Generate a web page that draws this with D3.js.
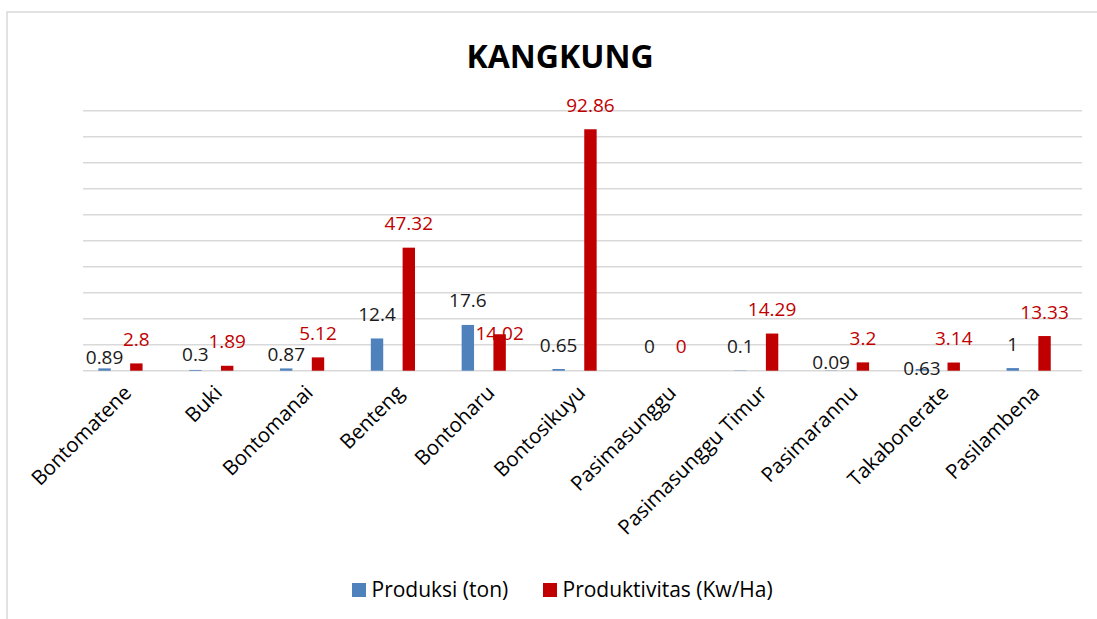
<!DOCTYPE html>
<html>
<head>
<meta charset="utf-8">
<script src="https://cdn.jsdelivr.net/npm/d3@7"></script>
<style>
  html, body { margin: 0; padding: 0; background: #fff; }
  svg { display: block; font-family: "Open Sans", sans-serif; }
</style>
</head>
<body>
<div id="chart"></div>
<script>
// data
const categories = ['Bontomatene', 'Buki', 'Bontomanai', 'Benteng', 'Bontoharu', 'Bontosikuyu',
  'Pasimasunggu', 'Pasimasunggu Timur', 'Pasimarannu', 'Takabonerate', 'Pasilambena'];
const produksi = [0.89, 0.3, 0.87, 12.4, 17.6, 0.65, 0, 0.1, 0.09, 0.63, 1];
const produktivitas = [2.8, 1.89, 5.12, 47.32, 14.02, 92.86, 0, 14.29, 3.2, 3.14, 13.33];
const seriesNames = ['Produksi (ton)', 'Produktivitas (Kw/Ha)'];
const yTicks = d3.range(0, 101, 10);

// a few labels were dragged by hand in the original, nudge them (px, down)
const labelNudge = {
  'Produksi (ton)': { Bontomatene: 13, Buki: 8.3, Bontomanai: 9.8, Pasimarannu: 16.3, Takabonerate: 23.4 },
  'Produktivitas (Kw/Ha)': { Bontoharu: 23.3 }
};

const width = 1097, height = 619;
const margin = { top: 110.7, right: 15, bottom: 248.3, left: 83 };
const colors = ['#4F81BD', '#C00000'];
const labelColors = ['#1a1a1a', '#C00000'];
const slots = [0, 2]; // excel left empty slots between the two series

const svg = d3.select('#chart').append('svg')
  .attr('width', width)
  .attr('height', height);

// chart area border
svg.append('rect')
  .attr('x', 7).attr('y', 12)
  .attr('width', 1120).attr('height', 640)
  .attr('fill', '#fff')
  .attr('stroke', '#D9D9D9')
  .attr('stroke-width', 1.5);

const x = d3.scaleBand()
  .domain(categories)
  .range([margin.left, width - margin.right]);

const y = d3.scaleLinear()
  .domain([0, 100])
  .range([height - margin.bottom, margin.top]);

const half = x.bandwidth() * 0.35;
const inner = d3.scaleBand()
  .domain([0, 1, 2, 3])
  .range([-half, half])
  .paddingInner(0.22)
  .paddingOuter(0.11);

// gridlines
svg.append('g')
  .selectAll('line')
  .data(yTicks)
  .join('line')
  .attr('x1', margin.left)
  .attr('x2', width - margin.right)
  .attr('y1', d => y(d))
  .attr('y2', d => y(d))
  .attr('stroke', '#D9D9D9')
  .attr('stroke-width', 1.4);

const series = [produksi, produktivitas].map((vals, si) =>
  vals.map((v, i) => ({ s: si, name: seriesNames[si], cat: categories[i], value: v })));

const groups = svg.append('g')
  .selectAll('g')
  .data(series)
  .join('g');

groups.selectAll('rect')
  .data(d => d)
  .join('rect')
  .attr('x', d => x(d.cat) + x.bandwidth() / 2 + inner(slots[d.s]))
  .attr('y', d => y(d.value))
  .attr('width', inner.bandwidth())
  .attr('height', d => y(0) - y(d.value))
  .attr('fill', d => colors[d.s]);

// data labels
groups.selectAll('text')
  .data(d => d)
  .join('text')
  .attr('x', d => x(d.cat) + x.bandwidth() / 2 + inner(slots[d.s]) + inner.bandwidth() / 2)
  .attr('y', function (d) {
    const nudge = (labelNudge[d.name] && labelNudge[d.name][d.cat]) || 0;
    return y(d.value) - 17.5 + nudge;
  })
  .attr('text-anchor', 'middle')
  .attr('font-size', 19)
  .attr('fill', d => labelColors[d.s])
  .text(d => d.value);

// category labels, rotated
svg.append('g')
  .selectAll('text')
  .data(categories)
  .join('text')
  .attr('transform', d => 'translate(' + (x(d) + x.bandwidth() / 2 - 6) + ',384) rotate(-45)')
  .attr('text-anchor', 'end')
  .attr('dy', '0.7em')
  .attr('font-size', 20.5)
  .attr('fill', '#000')
  .text(d => d);

// title
svg.append('text')
  .attr('x', 560)
  .attr('y', 68)
  .attr('text-anchor', 'middle')
  .attr('font-size', 32)
  .attr('font-weight', 'bold')
  .attr('fill', '#000')
  .text('KANGKUNG');

// legend
const legendX = [352, 543];
const legend = svg.append('g')
  .selectAll('g')
  .data(seriesNames)
  .join('g')
  .attr('transform', (d, i) => 'translate(' + legendX[i] + ',583)');

legend.append('rect')
  .attr('width', 14)
  .attr('height', 14)
  .attr('fill', (d, i) => colors[i]);

legend.append('text')
  .attr('x', 19.5)
  .attr('y', 14)
  .attr('font-size', 21)
  .attr('fill', '#000')
  .text(d => d);
</script>
</body>
</html>
